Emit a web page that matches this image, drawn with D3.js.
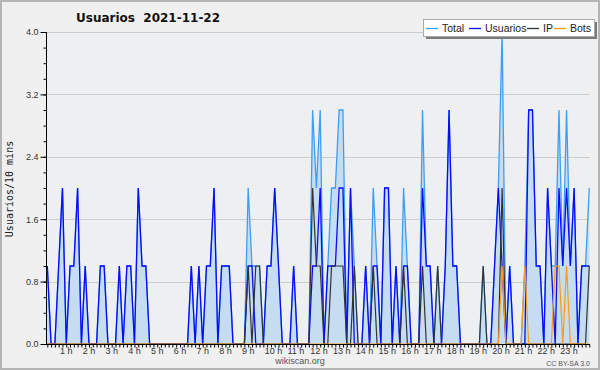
<!DOCTYPE html>
<html><head><meta charset="utf-8">
<script src="https://cdn.jsdelivr.net/npm/d3@7"></script>
<style>html,body{margin:0;padding:0;background:#f0f0f0;}svg{display:block;}</style>
</head><body><svg id="c" width="600" height="370"></svg>
<script>
// 10-minute bins, 0:00 .. 23:50
const usuarios = [1,0,0,1,2,0,1,1,2,0, 1,0,0,0,1,1,0,0,0,1, 0,1,1,0,2,1,1,0,0,0,
  0,0,0,0,0,0,0,0,1,0, 1,0,1,1,2,0,1,1,1,0, 0,0,0,1,1,0,0,0,1,1,
  2,1,0,0,0,1,0,0,0,0, 1,1,2,0,1,1,1,2,2,0, 2,0,0,0,1,0,1,1,0,2,
  2,0,1,0,1,1,0,0,0,2, 1,1,0,0,0,1,3,1,1,0, 0,0,0,0,0,0,0,0,1,2,
  1,0,1,0,0,0,0,3,3,1, 1,0,2,1,0,2,1,2,1,2, 0,1,1,1];
const ip = [0,0,0,0,0,0,0,0,0,0, 0,0,0,0,0,0,0,0,0,0, 0,0,0,0,0,0,0,0,0,0,
  0,0,0,0,0,0,0,0,0,0, 0,0,0,0,0,0,0,0,0,0, 0,0,0,1,0,1,1,0,0,0,
  0,0,0,0,0,0,0,0,0,0, 2,1,1,0,0,1,1,1,1,0, 0,1,0,0,0,0,1,0,0,0,
  0,0,0,0,1,0,0,0,0,1, 0,0,0,1,0,0,0,0,0,0, 0,0,0,0,0,1,0,0,0,0,
  2,0,0,0,0,0,0,0,0,0, 0,0,0,0,0,0,0,0,0,0, 0,0,0,1];
const bots = [0,0,0,0,0,0,0,0,0,0, 0,0,0,0,0,0,0,0,0,0, 0,0,0,0,0,0,0,0,0,0,
  0,0,0,0,0,0,0,0,0,0, 0,0,0,0,0,0,0,0,0,0, 0,0,0,0,0,0,0,0,0,0,
  0,0,0,0,0,0,0,0,0,0, 0,0,0,0,0,0,0,0,0,0, 0,0,0,0,0,0,0,0,0,0,
  0,0,0,0,0,0,0,0,0,0, 0,0,0,0,0,0,0,0,0,0, 0,0,0,0,0,0,0,0,0,0,
  1,0,0,0,0,0,1,0,0,0, 0,0,0,0,1,1,0,1,0,0, 0,0,0,0];
const total = [1,0,0,1,2,0,1,1,2,0, 1,0,0,0,1,1,0,0,0,1, 0,1,1,0,2,1,1,0,0,0,
  0,0,0,0,0,0,0,0,1,0, 1,0,1,1,2,0,1,1,1,0, 0,0,0,2,1,1,1,0,1,1,
  2,1,0,0,0,1,0,0,0,0, 3,2,3,0,1,2,2,3,3,0, 2,1,0,0,1,0,2,1,0,2,
  2,0,1,0,2,1,0,0,0,3, 1,1,0,1,0,1,3,1,1,0, 0,0,0,0,0,1,0,0,1,2,
  4,0,1,0,0,0,1,3,3,1, 1,0,2,1,1,3,1,3,1,2, 0,1,1,2];
const yTicks = [0, 0.8, 1.6, 2.4, 3.2, 4.0];
const hourLabels = ["1 h","2 h","3 h","4 h","5 h","6 h","7 h","8 h","9 h","10 h","11 h","12 h",
  "13 h","14 h","15 h","16 h","17 h","18 h","19 h","20 h","21 h","22 h","23 h"];
const seriesNames = ["Total","Usuarios","IP","Bots"];
const seriesColors = ["#3d9ef5","#0a0aff","#333333","#ff9a10"];
const titleText = "Usuarios\u00a0\u00a02021-11-22";
const yTitle = "Usuarios/10 mins";

const svg = d3.select("#c");
const n = total.length;
const x = d3.scaleLinear().domain([0, n - 1]).range([47.3, 589.3]);
const y = d3.scaleLinear().domain([0, 4]).range([344, 32]);
const L = 46, R = 590, T = 32, B = 344;

svg.append("rect").attr("x",1).attr("y",1).attr("width",598).attr("height",368)
  .attr("fill","#f0f0f0").attr("stroke","#b4b4b4").attr("stroke-width",2);
svg.append("rect").attr("x",L).attr("y",T).attr("width",R-L).attr("height",B-T).attr("fill","#eeeff1");

// grid
svg.append("g").selectAll("line").data(yTicks.filter(d=>d>0)).join("line")
  .attr("x1",L).attr("x2",R).attr("y1",d=>Math.round(y(d))+0.5).attr("y2",d=>Math.round(y(d))+0.5)
  .attr("stroke","#cdcdcd").attr("stroke-width",1);

// area + lines
const idx = d3.range(n);
svg.append("path").datum(idx)
  .attr("d", d3.area().x(i=>x(i)).y0(y(0)).y1(i=>y(total[i])))
  .attr("fill","#c6ddf1");
const line = arr => d3.line().x(i=>x(i)).y(i=>y(arr[i]))(idx);
[[total,0,1.3],[usuarios,1,1.3],[ip,2,1.2],[bots,3,1.2]].forEach(([arr,k,w])=>{
  svg.append("path").attr("d", line(arr)).attr("fill","none")
    .attr("stroke", seriesColors[k]).attr("stroke-width", w).attr("stroke-linejoin","miter");
});

// y axis
const yMinor = d3.range(0, 4.0001, 0.2);
const ya = svg.append("g").attr("transform",`translate(${L+0.5},0)`)
  .call(d3.axisLeft(y).tickValues(yMinor).tickSize(3).tickFormat(""));
ya.select(".domain").remove();
ya.selectAll("line").attr("stroke","#000");
const yb = svg.append("g").attr("transform",`translate(${L+0.5},0)`)
  .call(d3.axisLeft(y).tickValues(yTicks).tickSize(6).tickPadding(2).tickFormat(d3.format(".1f")));
yb.select(".domain").remove();
yb.selectAll("line").attr("stroke","#000");
yb.selectAll("text").attr("font-family","Liberation Sans, Arial, sans-serif").attr("font-size","9px").attr("fill","#333");
svg.append("line").attr("x1",L+0.5).attr("x2",L+0.5).attr("y1",T).attr("y2",B+0.5).attr("stroke","#000");

// x axis
const xa = svg.append("g").attr("transform",`translate(0,${B+0.5})`)
  .call(d3.axisBottom(x).tickValues(idx).tickSize(3).tickFormat(""));
xa.select(".domain").remove();
xa.selectAll("line").attr("stroke","#000");
svg.append("line").attr("x1",L).attr("x2",R).attr("y1",B+0.5).attr("y2",B+0.5).attr("stroke","#000");
svg.append("g").selectAll("text").data(hourLabels).join("text")
  .attr("x",(d,k)=>x((k+1)*6)-10).attr("y",354)
  .attr("font-family","Liberation Sans, Arial, sans-serif").attr("font-size","9px").attr("fill","#333")
  .text(d=>d);

// titles
svg.append("text").attr("x",76).attr("y",22).attr("font-family","DejaVu Sans, sans-serif")
  .attr("font-weight","bold").attr("font-size","12px").attr("fill","#111").text(titleText);
svg.append("text").attr("transform","translate(13,189) rotate(-90)").attr("text-anchor","middle")
  .attr("font-family","DejaVu Sans Mono, monospace").attr("font-size","10px").attr("fill","#222").text(yTitle);
svg.append("text").attr("x",300).attr("y",364).attr("text-anchor","middle")
  .attr("font-family","Liberation Sans, Arial, sans-serif").attr("font-size","9px").attr("fill","#555").text("wikiscan.org");
svg.append("text").attr("x",590).attr("y",366).attr("text-anchor","end")
  .attr("font-family","Liberation Sans, Arial, sans-serif").attr("font-size","7px").attr("fill","#555").text("CC BY-SA 3.0");

// legend
const lg = svg.append("g");
lg.append("rect").attr("x",426).attr("y",22).attr("width",171).attr("height",17).attr("fill","#7a7a7a");
lg.append("rect").attr("x",423.5).attr("y",19.5).attr("width",171).attr("height",17).attr("fill","#fff").attr("stroke","#aaa");
const lgX = [426, 469, 527, 554];
seriesNames.forEach((s,k)=>{
  lg.append("line").attr("x1",lgX[k]).attr("x2",lgX[k]+12).attr("y1",28.5).attr("y2",28.5)
    .attr("stroke",seriesColors[k]).attr("stroke-width",1.3);
  lg.append("text").attr("x",lgX[k]+16).attr("y",32).attr("font-family","Liberation Sans, Arial, sans-serif")
    .attr("font-size","10.5px").attr("fill","#222").text(s);
});
</script></body></html>
